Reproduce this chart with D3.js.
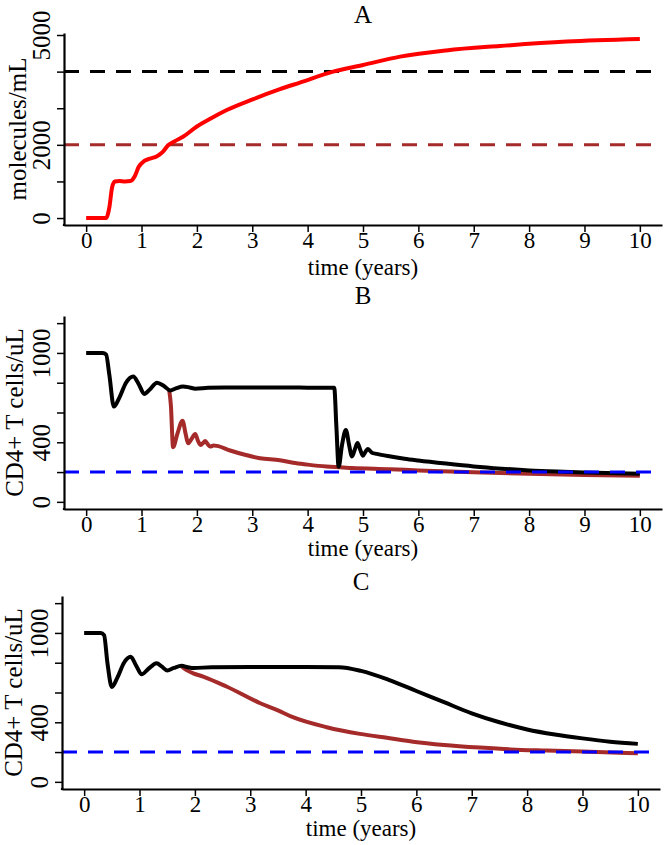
<!DOCTYPE html>
<html>
<head>
<meta charset="utf-8">
<script src="https://cdn.jsdelivr.net/npm/d3@7"></script>
<style>
  html, body { margin: 0; padding: 0; background: #fff; }
  svg text { font-family: "Liberation Serif", "DejaVu Serif", serif; fill: #000; }
</style>
</head>
<body>
<svg id="chart" width="669" height="845"></svg>
<script>
// ---------- DATA ----------
const xTicks = [0, 1, 2, 3, 4, 5, 6, 7, 8, 9, 10];
const yTicksA = [0, 1000, 2000, 3000, 4000, 5000];
const yLabelsA = [0, 2000, 5000];
const yTicksBC = [0, 200, 400, 600, 800, 1000, 1200];
const yLabelsBC = [0, 400, 1000];

// Panel A: red curve (time, molecules/mL)
const timeA = [0, 0.2, 0.36, 0.42, 0.47, 0.52, 0.6, 0.7, 0.8, 0.88, 0.95, 1.05, 1.15, 1.28, 1.38, 1.48, 1.6, 1.75, 2.0, 2.25, 2.54, 3.02, 3.5, 3.86, 4.46, 5.0, 5.67, 6.5, 7.47, 8.68, 10];
const valueA = [0, 0, 0, 300, 850, 1000, 1010, 1000, 1010, 1150, 1400, 1560, 1620, 1690, 1800, 1990, 2100, 2220, 2500, 2720, 2950, 3250, 3520, 3700, 4000, 4180, 4410, 4580, 4700, 4820, 4890];
const thresholdsA = [4000, 2000];

// Panel B
const timeBblack = [0, 0.3, 0.36, 0.42, 0.5, 0.6, 0.72, 0.85, 0.95, 1.05, 1.15, 1.28, 1.4, 1.52, 1.62, 1.75, 1.87, 1.97, 2.2, 2.5, 3, 3.5, 4, 4.48, 4.52, 4.56, 4.62, 4.69, 4.75, 4.8, 4.86, 4.9, 4.95, 5.0, 5.05, 5.09, 5.16, 5.25, 5.5, 5.75, 6, 6.5, 7, 7.5, 8, 8.5, 9, 10];
const valueBblack = [1000, 1000, 990, 850, 640, 700, 800, 842, 790, 725, 755, 800, 780, 748, 762, 775, 768, 760, 766, 768, 768, 768, 767, 767, 500, 235, 380, 483, 380, 305, 360, 395, 350, 310, 340, 355, 330, 322, 305, 290, 278, 257, 238, 223, 211, 203, 197, 188];
const timeBred = [1.5, 1.53, 1.57, 1.65, 1.74, 1.8, 1.84, 1.9, 1.97, 2.02, 2.07, 2.11, 2.15, 2.2, 2.24, 2.3, 2.36, 2.6, 2.85, 3.14, 3.5, 3.74, 4.0, 4.34, 4.8, 5.49, 6, 7, 8, 9, 10];
const valueBred = [750, 650, 367, 460, 545, 450, 393, 420, 456, 410, 382, 395, 409, 385, 371, 378, 376, 345, 318, 293, 280, 262, 250, 237, 228, 219, 211, 198, 188, 181, 175];

// Panel C
const timeCblack = [0, 0.3, 0.36, 0.42, 0.5, 0.6, 0.72, 0.84, 0.94, 1.04, 1.15, 1.31, 1.4, 1.5, 1.62, 1.76, 1.87, 1.98, 2.3, 3, 3.5, 4, 4.6, 5.0, 5.5, 6, 6.5, 7, 7.5, 8, 8.5, 9, 9.5, 10];
const valueCblack = [1000, 1000, 985, 800, 637, 700, 800, 840, 780, 722, 755, 797, 775, 748, 765, 779, 770, 764, 770, 771, 771, 771, 770, 745, 685, 610, 535, 460, 400, 352, 318, 292, 270, 255];
const timeCred = [1.76, 1.85, 1.97, 2.15, 2.57, 3.18, 3.5, 3.77, 4.38, 4.98, 5.52, 5.94, 6.5, 7.15, 7.7, 8.35, 9, 10];
const valueCred = [775, 750, 729, 707, 640, 528, 480, 434, 367, 322, 293, 270, 248, 230, 218, 210, 203, 192];

const thresholdBC = 200;

// ---------- DRAW ----------
const svg = d3.select("#chart");
const FONT_TICK = 23, FONT_LAB = 23, FONT_YLAB = 25, FONT_TITLE = 25;

function zip(xs, ys) { return xs.map((x, i) => ({ t: x, v: ys[i] })); }

function panel(cfg) {
  const x = d3.scaleLinear().domain([-0.4, 10.4]).range([cfg.left, cfg.right]);
  const y = d3.scaleLinear().domain(cfg.yDomain).range([cfg.bottom, cfg.top]);
  const g = svg.append("g");

  const line = d3.line().x(d => x(d.t)).y(d => y(d.v)).curve(d3.curveMonotoneX);

  function drawH(h) {
    g.append("line")
      .attr("x1", x(-0.4)).attr("x2", x(10.4))
      .attr("y1", y(h.value)).attr("y2", y(h.value))
      .attr("stroke", h.color).attr("stroke-width", 3)
      .attr("stroke-dasharray", "15,11");
  }
  cfg.hlines.filter(h => h.before).forEach(drawH);

  cfg.series.forEach(s => {
    g.append("path")
      .datum(zip(s.t, s.v))
      .attr("fill", "none")
      .attr("stroke", s.color)
      .attr("stroke-width", 4)
      .attr("stroke-linejoin", "round")
      .attr("stroke-linecap", "butt")
      .attr("d", line);
  });

  cfg.hlines.filter(h => !h.before).forEach(drawH);

  // x axis
  const xAxis = d3.axisBottom(x).tickValues(xTicks).tickSizeInner(7).tickSizeOuter(0).tickPadding(5)
    .tickFormat(d3.format("d"));
  const gx = g.append("g").attr("transform", `translate(0,${cfg.bottom})`).call(xAxis);
  gx.select(".domain").attr("stroke-width", 2.2).attr("stroke", "#000");
  gx.selectAll(".tick line").attr("stroke-width", 1.5).attr("stroke", "#000");
  gx.selectAll(".tick text").attr("font-size", FONT_TICK).attr("dy", null).attr("y", 0)
    .attr("transform", `translate(0,${cfg.xTickBase})`)
    .attr("font-family", "Liberation Serif");

  // y axis
  const yAxis = d3.axisLeft(y).tickValues(cfg.yTicks).tickSizeInner(7).tickSizeOuter(0)
    .tickFormat(d => cfg.yLabels.includes(d) ? String(d) : "");
  const gy = g.append("g").attr("transform", `translate(${cfg.left},0)`).call(yAxis);
  gy.select(".domain").attr("stroke-width", 2.2).attr("stroke", "#000");
  gy.selectAll(".tick line").attr("stroke-width", 1.5).attr("stroke", "#000");
  gy.selectAll(".tick text")
    .attr("x", 0).attr("y", -14).attr("dy", null)
    .attr("transform", "rotate(-90)")
    .attr("text-anchor", "middle")
    .attr("font-size", FONT_YLAB)
    .attr("font-family", "Liberation Serif");

  // corner fill
  g.append("rect").attr("x", cfg.left - 1.1).attr("y", cfg.bottom - 1.1).attr("width", 2.2).attr("height", 2.2).attr("fill", "#000");

  // labels
  const cx = (cfg.left + cfg.right) / 2;
  g.append("text").attr("x", cx).attr("y", cfg.xLabBase).attr("text-anchor", "middle")
    .attr("font-size", FONT_LAB).text("time (years)");
  const cy = (cfg.top + cfg.bottom) / 2;
  g.append("text").attr("transform", `translate(${cfg.yLabBase},${cy}) rotate(-90)`)
    .attr("text-anchor", "middle").attr("font-size", FONT_YLAB).text(cfg.ylab);
  g.append("text").attr("x", cx).attr("y", cfg.titleBase).attr("text-anchor", "middle")
    .attr("font-size", FONT_TITLE).text(cfg.title);
}

panel({
  left: 64, right: 662, top: 33, bottom: 225,
  yDomain: [-190, 5055], yTicks: yTicksA, yLabels: yLabelsA,
  xTickBase: 23, xLabBase: 275, yLabBase: 26, titleBase: 23,
  ylab: "molecules/mL", title: "A",
  hlines: [
    { value: thresholdsA[0], color: "#000000", before: true },
    { value: thresholdsA[1], color: "#a52a2a", before: true }
  ],
  series: [{ t: timeA, v: valueA, color: "#ff0000" }]
});

panel({
  left: 64, right: 662, top: 316, bottom: 509,
  yDomain: [-48, 1248], yTicks: yTicksBC, yLabels: yLabelsBC,
  xTickBase: 23, xLabBase: 556, yLabBase: 23, titleBase: 304,
  ylab: "CD4+ T cells/uL", title: "B",
  hlines: [{ value: thresholdBC, color: "#0000ff", before: false }],
  series: [
    { t: timeBred, v: valueBred, color: "#a52a2a" },
    { t: timeBblack, v: valueBblack, color: "#000000" }
  ]
});

panel({
  left: 62, right: 660, top: 596, bottom: 789,
  yDomain: [-48, 1248], yTicks: yTicksBC, yLabels: yLabelsBC,
  xTickBase: 23, xLabBase: 836, yLabBase: 22, titleBase: 590,
  ylab: "CD4+ T cells/uL", title: "C",
  hlines: [{ value: thresholdBC, color: "#0000ff", before: false }],
  series: [
    { t: timeCred, v: valueCred, color: "#a52a2a" },
    { t: timeCblack, v: valueCblack, color: "#000000" }
  ]
});
</script>
</body>
</html>
